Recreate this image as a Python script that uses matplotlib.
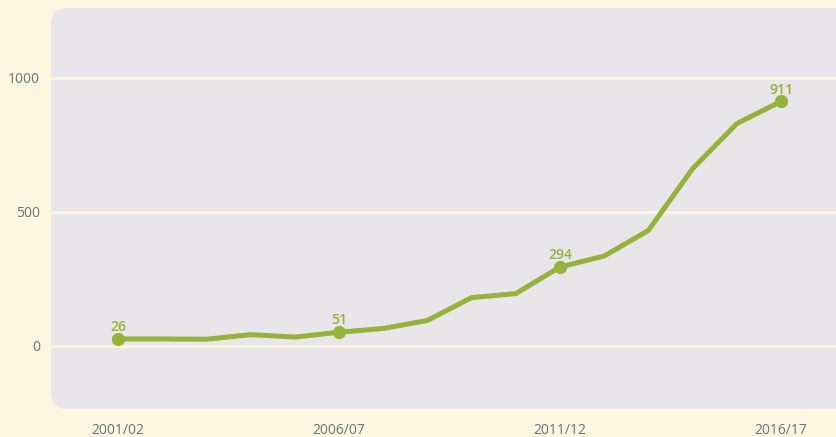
import matplotlib
matplotlib.use("Agg")
from matplotlib import pyplot as plt
from matplotlib.patches import FancyBboxPatch

# Values
years = ["2001/02", "2002/03", "2003/04", "2004/05", "2005/06", "2006/07",
         "2007/08", "2008/09", "2009/10", "2010/11", "2011/12", "2012/13",
         "2013/14", "2014/15", "2015/16", "2016/17"]
values = [26, 26, 25, 42, 33, 51, 65, 95, 180, 195, 294, 335, 430, 660, 828, 911]
labelled = ["2001/02", "2006/07", "2011/12", "2016/17"]
yticks = [0, 500, 1000]

bg = "#FDF7E1"
panel = "#E8E6E8"
green = "#96B23C"
tick_col = "#66727D"

plt.rcParams['font.family'] = ['Open Sans', 'DejaVu Sans']

fig = plt.figure(figsize=(8.37, 4.37), dpi=100, facecolor=bg)
ax = fig.add_axes([51 / 837, 28 / 437, 1 - 51 / 837 + 0.02, 401 / 437])
ax.set_facecolor("none")
ax.set_zorder(2)
for s in ax.spines.values():
    s.set_visible(False)

# rounded grey panel behind the plot
box = FancyBboxPatch((51 / 837, 28 / 437), 1.0, 401 / 437,
                     boxstyle="round,pad=0,rounding_size=0.019",
                     mutation_aspect=837 / 437,
                     transform=fig.transFigure, facecolor=panel,
                     edgecolor="none", zorder=-1)
fig.patches.append(box)

x = list(range(len(years)))
for t in yticks:
    ax.axhline(t, color="#FDF6E3", lw=1.9, zorder=1)

ax.plot(x, values, color=green, lw=3.6, solid_joinstyle="round", zorder=3)

for lab in labelled:
    i = years.index(lab)
    ax.plot(x[i], values[i], "o", color=green, ms=8.5, zorder=4)
    ax.annotate(str(values[i]), (x[i], values[i]), xytext=(0, 3.5),
                textcoords="offset points", ha="center", va="bottom",
                color=green, fontsize=10, fontweight=600)

ax.set_xlim(-1.52, 16.27 + 0.02 * 837 / 44.2)
ax.set_ylim(-235, 1259)
ax.set_yticks(yticks)
ax.set_yticklabels([str(t) for t in yticks])
ax.set_xticks([years.index(l) for l in labelled])
ax.set_xticklabels(labelled)
ax.tick_params(axis="y", length=0, pad=8, labelsize=10, labelcolor=tick_col)
ax.tick_params(axis="x", length=0, pad=10, labelsize=10, labelcolor=tick_col)
for t in ax.get_xticklabels() + ax.get_yticklabels():
    t.set_fontweight(500)

fig.savefig("out.png", dpi=100, facecolor=bg)
